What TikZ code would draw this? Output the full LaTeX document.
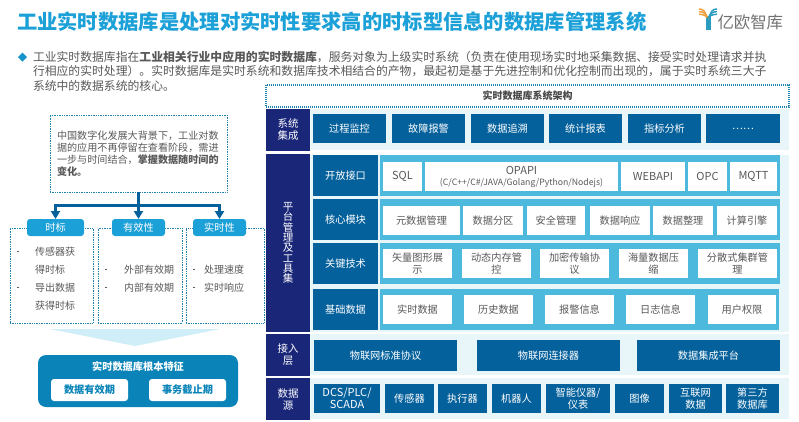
\documentclass[tikz,border=0pt]{standalone}
\usepackage{fontspec}
\setmainfont{Noto Sans CJK SC}
\usetikzlibrary{arrows.meta,positioning}
\definecolor{titleBlue}{HTML}{1ba0d8}
\definecolor{cellBlue}{HTML}{05619c}
\definecolor{navyBlue}{HTML}{1a2779}
\definecolor{rowCyan}{HTML}{4db9dc}
\definecolor{paleBlue}{HTML}{e8f6fa}
\definecolor{dotBlue}{HTML}{1f84ad}
\definecolor{panelBlue}{HTML}{0a84b8}
\definecolor{funnelBlue}{HTML}{cfeef8}
\definecolor{bodyGray}{HTML}{595959}
\definecolor{logoOrange}{HTML}{f0a040}
\definecolor{logoTeal}{HTML}{2a9cc0}

\begin{document}
\begin{tikzpicture}[
          x=1pt, y=-1pt,
          node distance=3pt,
          every node/.style={inner sep=0pt, outer sep=0pt},
          paleband/.style={fill=paleBlue, anchor=north west, minimum width=479pt},
          sidebox/.style={fill=navyBlue, text=white, anchor=north west, align=center,
                      minimum width=44pt, font=\fontsize{10.5}{12}\selectfont},
          bluebox/.style={fill=cellBlue, text=white, align=center,
                      font=\fontsize{10.2}{12}\selectfont},
          rowlabel/.style={bluebox, anchor=north west, minimum width=65pt, minimum height=41pt},
          rowband/.style={fill=rowCyan, anchor=north west, minimum width=400pt, minimum height=41pt},
          whitebox/.style={fill=white, text=bodyGray, align=center, minimum height=29pt,
                      font=\fontsize{10.2}{12}\selectfont},
          latinbox/.style={whitebox, font=\fontsize{11}{12}\selectfont},
          dotbox/.style={draw=dotBlue, densely dotted, line width=0.7pt, anchor=north west},
          headbox/.style={fill=titleBlue, text=white, rounded corners=3pt, anchor=north west,
                      minimum height=17pt, font=\fontsize{10.2}{12}\selectfont},
          termbox/.style={fill=white, text=panelBlue, rounded corners=3pt, anchor=north west,
                      minimum width=77pt, minimum height=22pt, font=\fontsize{10.2}{12}\bfseries\selectfont},
          listtext/.style={text=bodyGray, anchor=north west, font=\fontsize{10}{18}\selectfont},
          treeline/.style={draw=cellBlue, line width=3pt, -{Triangle[width=9pt,length=8pt]}}
        ]
        \useasboundingbox (0,0) rectangle (799,421);
        \fill[white] (0,0) rectangle (799,421);

        % title and logo
        \node[anchor=west, text=titleBlue, font=\fontsize{20.3}{24}\bfseries\selectfont] (title) at (17,22)
          {工业实时数据库是处理对实时性要求高的时标型信息的数据库管理系统};
        \node[anchor=west, text=bodyGray!85, font=\fontsize{16.4}{18}\selectfont] (logotext) at (717.5,22.5) {亿欧智库};
        \fill[logoTeal] (705.5,17) rectangle (710.5,30);
        \foreach \s in {0,2.6,5.2} {
          \draw[logoOrange, line width=1.5pt] (699,9+\s) .. controls (703,9+\s) and (705.5+\s*0.5,11+\s) .. (706+\s*0.5,17+\s*0.4);
          \draw[logoTeal, line width=1.5pt] (717,9+\s) .. controls (713,9+\s) and (710.5-\s*0.5,11+\s) .. (710-\s*0.5,17+\s*0.4);
        }

        % intro text
        \fill[titleBlue!80!cellBlue] (18,57) -- (22.5,52.5) -- (27,57) -- (22.5,61.5) -- cycle;
        \node[anchor=north west, text=bodyGray, align=left, font=\fontsize{11.83}{14.5}\selectfont] (intro) at (33,51)
          {工业实时数据库指在\textbf{工业相关行业中应用的实时数据库}，服务对象为上级实时系统（负责在使用现场实时地采集数据、接受实时处理请求并执\\
           行相应的实时处理）。实时数据库是实时系统和数据库技术相结合的产物，最起初是基于先进控制和优化控制而出现的，属于实时系统三大子\\
           系统中的数据系统的核心。};

        % left side
        \node[dotbox, minimum width=177pt, minimum height=77pt] (trend) at (50,115) {};
        \node[anchor=west, text=bodyGray, align=left, font=\fontsize{10.1}{12}\selectfont] (trendtext) at (57,154)
          {中国数字化发展大背景下，工业对数\\据的应用不再停留在查看阶段，需进\\一步与时间结合，\textbf{掌握数据随时间的}\\\textbf{变化。}};
        \node[dotbox, minimum width=83pt, minimum height=95pt] (timebox) at (10,228) {};
        \node[dotbox, minimum width=84pt, minimum height=95pt] (validbox) at (98,228) {};
        \node[dotbox, minimum width=78pt, minimum height=95pt] (realbox) at (186,228) {};
        \node[headbox, minimum width=57pt] (timehead) at (27,219) {时标};
        \node[headbox, minimum width=53pt] (validhead) at (112,219) {有效性};
        \node[headbox, minimum width=53pt] (realhead) at (193,219) {实时性};
        \draw[treeline] (trend.south) -- ++(0,13) -| (timehead.north);
        \draw[treeline] (trend.south) -- ++(0,13) -| (realhead.north);
        \draw[treeline] (trend.south) -- (validhead.north);

        \node[listtext] (timelist) at (17,242.7) {\begin{tabular}{@{}p{18pt}@{}l@{}}
          \rule[3pt]{1.8pt}{1.8pt} & 传感器获\\ & 得时标\\ \rule[3pt]{1.8pt}{1.8pt} & 导出数据\\ & 获得时标\end{tabular}};
        \node[listtext] (validlist) at (105,260.7) {\begin{tabular}{@{}p{19pt}@{}l@{}}
          \rule[3pt]{1.8pt}{1.8pt} & 外部有效期\\ \rule[3pt]{1.8pt}{1.8pt} & 内部有效期\end{tabular}};
        \node[listtext] (reallist) at (193,260.7) {\begin{tabular}{@{}p{11pt}@{}l@{}}
          \rule[3pt]{1.8pt}{1.8pt} & 处理速度\\ \rule[3pt]{1.8pt}{1.8pt} & 实时响应\end{tabular}};

        \fill[funnelBlue] (50,329) -- (220,329) -- (135,346) -- cycle;
        \node[fill=panelBlue, rounded corners=8pt, anchor=north west, minimum width=200pt, minimum height=52pt] (feature) at (38,355) {};
        \node[text=white, font=\fontsize{10.2}{12}\bfseries\selectfont] (featuretitle) at (138,367) {实时数据库根本特征};
        \node[termbox] (validterm) at (51,379) {数据有效期};
        \node[termbox] (deadline) at (149,379) {事务截止期};

        % right side header
        \node[draw=dotBlue, dash pattern=on 1pt off 1pt, line width=1.1pt, anchor=north west, minimum width=523pt, minimum height=22pt,
              text=bodyGray!80!black, font=\fontsize{10}{11}\bfseries\selectfont] (archhead) at (266,85) {实时数据库系统架构};

        % background bands
        \node[paleband, minimum height=41pt] (bandA) at (310,109) {};
        \node[paleband, minimum height=177pt] (bandB) at (310,155) {};
        \node[paleband, minimum height=41pt] (bandC) at (310,334) {};
        \node[paleband, minimum height=41pt] (bandD) at (310,378) {};
        \node[sidebox, minimum height=42pt] (sideA) at (266,109) {系统\\集成};
        \node[sidebox, minimum height=178pt, font=\fontsize{10.5}{10.3}\selectfont] (sideB) at (266,154) {平\\台\\管\\理\\及\\工\\具\\集};
        \node[sidebox, minimum height=42pt] (sideC) at (266,334) {接入\\层};
        \node[sidebox, minimum height=42pt] (sideD) at (266,378) {数据\\源};

        % system integration
        \node[bluebox, anchor=north west, minimum width=73pt, minimum height=29pt] (monitor) at (313,114) {过程监控};
        \node[bluebox, minimum width=73pt, minimum height=29pt, right=6pt of monitor] (alarm) {故障报警};
        \node[bluebox, minimum width=73pt, minimum height=29pt, right=6pt of alarm] (trace) {数据追溯};
        \node[bluebox, minimum width=73pt, minimum height=29pt, right=5pt of trace] (report) {统计报表};
        \node[bluebox, minimum width=73pt, minimum height=29pt, right=6pt of report] (metric) {指标分析};
        \node[bluebox, minimum width=74pt, minimum height=29pt, right=5pt of metric] (more) {……};

        % platform rows
        \node[rowlabel] (openlabel) at (313,155) {开放接口};
        \node[rowlabel] (corelabel) at (313,199) {核心模块};
        \node[rowlabel] (techlabel) at (313,243) {关键技术};
        \node[rowlabel] (baselabel) at (313,289) {基础数据};
        \node[rowband] (openband) at (380,155) {};
        \node[rowband] (coreband) at (380,199) {};
        \node[rowband] (techband) at (380,243) {};
        \node[rowband, minimum width=399pt] (baseband) at (380,289) {};

        \node[latinbox, anchor=north west, minimum width=39pt] (sql) at (383,162) {SQL};
        \node[latinbox, minimum width=193pt, right=of sql] (opapi)
          {OPAPI\\[-1pt]{\fontsize{8.7}{10}\selectfont (C/C++/C\#/JAVA/Golang/Python/Nodejs)}};
        \node[latinbox, minimum width=64pt, right=of opapi] (webapi) {WEBAPI};
        \node[latinbox, minimum width=39pt, right=of webapi] (opc) {OPC};
        \node[latinbox, minimum width=47pt, right=of opc] (mqtt) {MQTT};

        \node[whitebox, anchor=north west, minimum width=77pt] (meta) at (383,206) {元数据管理};
        \node[whitebox, minimum width=60pt, right=of meta] (partition) {数据分区};
        \node[whitebox, minimum width=58pt, right=4pt of partition] (security) {安全管理};
        \node[whitebox, minimum width=60pt, right=5pt of security] (response) {数据响应};
        \node[whitebox, minimum width=60pt, right=of response] (tidy) {数据整理};
        \node[whitebox, minimum width=60pt, right=4pt of tidy] (engine) {计算引擎};

        \node[whitebox, anchor=north west, minimum width=69pt] (vector) at (383,249) {矢量图形展\\示};
        \node[whitebox, minimum width=69pt, right=10pt of vector] (memory) {动态内存管\\控};
        \node[whitebox, minimum width=69pt, right=9pt of memory] (crypto) {加密传输协\\议};
        \node[whitebox, minimum width=69pt, right=10pt of crypto] (compress) {海量数据压\\缩};
        \node[whitebox, minimum width=79pt, right=10pt of compress] (cluster) {分散式集群管\\理};

        \node[whitebox, anchor=north west, minimum width=69pt] (realdata) at (383,295) {实时数据};
        \node[whitebox, minimum width=69pt, right=12pt of realdata] (history) {历史数据};
        \node[whitebox, minimum width=69pt, right=12pt of history] (alarminfo) {报警信息};
        \node[whitebox, minimum width=69pt, right=12pt of alarminfo] (loginfo) {日志信息};
        \node[whitebox, minimum width=68pt, right=13pt of loginfo] (userrights) {用户权限};

        % access layer
        \node[bluebox, anchor=north west, minimum width=143pt, minimum height=31pt] (iotproto) at (314,340) {物联网标准协议};
        \node[bluebox, minimum width=143pt, minimum height=31pt, right=20pt of iotproto] (iotlink) {物联网连接器};
        \node[bluebox, minimum width=143pt, minimum height=31pt, right=17pt of iotlink] (dataplat) {数据集成平台};

        % data sources
        \node[bluebox, anchor=north west, minimum width=66pt, minimum height=29pt, font=\fontsize{11}{12}\selectfont] (dcs) at (314,384) {DCS/PLC/\\SCADA};
        \node[bluebox, minimum width=49pt, minimum height=29pt, right=5pt of dcs] (sensor) {传感器};
        \node[bluebox, minimum width=49pt, minimum height=29pt, right=4pt of sensor] (actuator) {执行器};
        \node[bluebox, minimum width=49pt, minimum height=29pt, right=5pt of actuator] (robot) {机器人};
        \node[bluebox, minimum width=64pt, minimum height=29pt, right=5pt of robot] (meter) {智能仪器/\\仪表};
        \node[bluebox, minimum width=49pt, minimum height=29pt, right=5pt of meter] (image) {图像};
        \node[bluebox, minimum width=53pt, minimum height=29pt, right=5pt of image] (webdata) {互联网\\数据};
        \node[bluebox, minimum width=53pt, minimum height=29pt, right=4pt of webdata] (thirdparty) {第三方\\数据库};
      \end{tikzpicture}
\end{document}
